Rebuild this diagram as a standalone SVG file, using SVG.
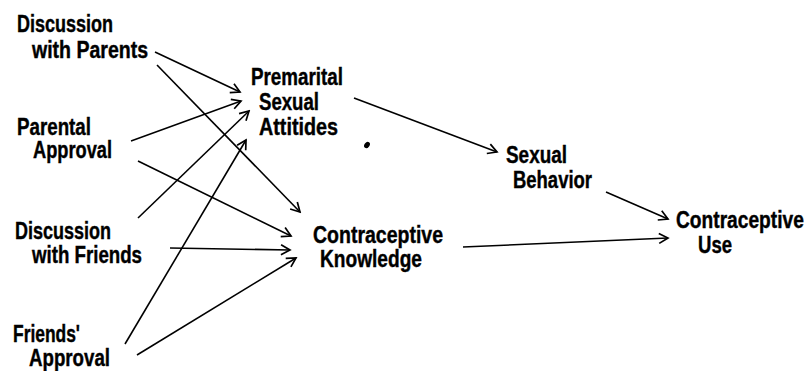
<svg xmlns="http://www.w3.org/2000/svg" width="810" height="371" viewBox="0 0 810 371">
<defs>
<style>
.t{font-family:"Liberation Sans",Arial,sans-serif;font-weight:bold;font-size:23px;fill:#000;stroke:#000;stroke-width:0.4}
.c line{stroke:#000;stroke-width:1.6;fill:none;marker-end:url(#a)}
</style>
<marker id="a" markerUnits="userSpaceOnUse" markerWidth="14" markerHeight="14" viewBox="-12 -7 14 14" refX="0" refY="0" orient="auto">
<path d="M-9,-5 L0,0 L-9,5" fill="none" stroke="#000" stroke-width="1.7" stroke-linejoin="miter"/>
</marker>
</defs>
<rect width="810" height="371" fill="#fff"/>
<g id="connectors" class="c">
<line x1="155" y1="52" x2="240" y2="92"/>
<line x1="157" y1="65" x2="300" y2="212"/>
<line x1="131" y1="141" x2="241" y2="101"/>
<line x1="138" y1="218" x2="249" y2="111"/>
<line x1="125" y1="344" x2="246" y2="140"/>
<line x1="138" y1="161" x2="291" y2="236"/>
<line x1="170" y1="248" x2="290" y2="250"/>
<line x1="137" y1="355" x2="296" y2="258"/>
<line x1="354" y1="98" x2="497" y2="152"/>
<line x1="606" y1="192" x2="668" y2="219"/>
<line x1="463" y1="247" x2="668" y2="238"/>
</g>
<g id="discussion-parents">
<text class="t" x="17" y="32" textLength="96" lengthAdjust="spacingAndGlyphs">Discussion</text>
<text class="t" x="32" y="58" textLength="116" lengthAdjust="spacingAndGlyphs">with Parents</text>
</g>
<g id="parental-approval">
<text class="t" x="17" y="135" textLength="74" lengthAdjust="spacingAndGlyphs">Parental</text>
<text class="t" x="33" y="158" textLength="79" lengthAdjust="spacingAndGlyphs">Approval</text>
</g>
<g id="discussion-friends">
<text class="t" x="15" y="239" textLength="96" lengthAdjust="spacingAndGlyphs">Discussion</text>
<text class="t" x="32" y="263" textLength="110" lengthAdjust="spacingAndGlyphs">with Friends</text>
</g>
<g id="friends-approval">
<text class="t" x="13" y="342" textLength="67" lengthAdjust="spacingAndGlyphs">Friends'</text>
<text class="t" x="29" y="366" textLength="81" lengthAdjust="spacingAndGlyphs">Approval</text>
</g>
<g id="premarital-attitudes">
<text class="t" x="251" y="85" textLength="92" lengthAdjust="spacingAndGlyphs">Premarital</text>
<text class="t" x="259" y="110" textLength="60" lengthAdjust="spacingAndGlyphs">Sexual</text>
<text class="t" x="259" y="135" textLength="79" lengthAdjust="spacingAndGlyphs">Attitides</text>
</g>
<g id="contraceptive-knowledge">
<text class="t" x="313" y="243" textLength="130" lengthAdjust="spacingAndGlyphs">Contraceptive</text>
<text class="t" x="320" y="267" textLength="102" lengthAdjust="spacingAndGlyphs">Knowledge</text>
</g>
<g id="sexual-behavior">
<text class="t" x="506" y="163" textLength="61" lengthAdjust="spacingAndGlyphs">Sexual</text>
<text class="t" x="513" y="188" textLength="79" lengthAdjust="spacingAndGlyphs">Behavior</text>
</g>
<g id="contraceptive-use">
<text class="t" transform="translate(676 228) scale(0.83 1)" x="0" y="0" textLength="154" lengthAdjust="spacingAndGlyphs">Contraceptive</text>
<text class="t" x="698" y="253" textLength="34" lengthAdjust="spacingAndGlyphs">Use</text>
</g>
<ellipse cx="367" cy="145" rx="2.5" ry="3.5" transform="rotate(35 367 145)" fill="#000"/>
</svg>
